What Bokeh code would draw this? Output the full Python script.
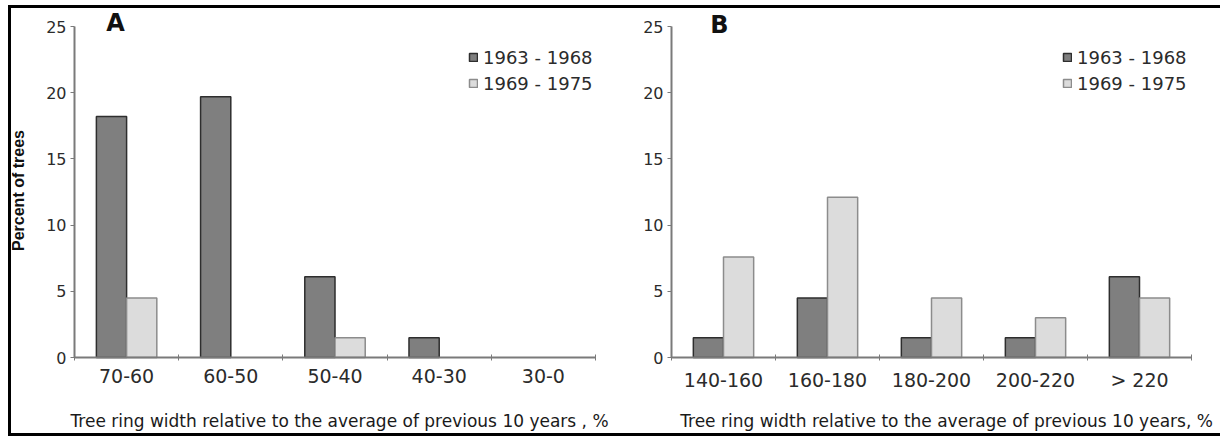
import numpy as np
from bokeh.plotting import figure
from bokeh.layouts import row
from bokeh.models import Range1d, FixedTicker, Legend, LegendItem, Label, ColumnDataSource
from bokeh.embed import file_html
from bokeh.resources import INLINE

# ---- data ----
cats_a = ["70-60", "60-50", "50-40", "40-30", "30-0"]
a_1963_1968 = [18.2, 19.7, 6.1, 1.5, 0.0]
a_1969_1975 = [4.5, 0.0, 1.5, 0.0, 0.0]

cats_b = ["140-160", "160-180", "180-200", "200-220", "> 220"]
b_1963_1968 = [1.5, 4.5, 1.5, 1.5, 6.1]
b_1969_1975 = [7.6, 12.1, 4.5, 3.0, 4.5]

series_names = ["1963 - 1968", "1969 - 1975"]
y_ticks = [0, 5, 10, 15, 20, 25]
y_max = 25
x_title_a = "Tree ring width relative to the average of previous 10 years , %"
x_title_b = "Tree ring width relative to the average of previous 10 years, %"
y_title = "Percent of trees"

# ---- styles ----
DARK, DARK_EDGE = "#7f7f7f", "#2e2e2e"
LIGHT, LIGHT_EDGE = "#dcdcdc", "#8c8c8c"
AXIS = "#7a7a7a"
TXT = "#2b2b2b"
FONT = "DejaVu Sans"
BW = 0.29

# ---- page layout in pixels ----
CANVAS_TOP, CANVAS_BOTTOM = 8, 433
H = CANVAS_BOTTOM - CANVAS_TOP
Y0_PX, YMAX_PX = 357, 26          # screen rows of value 0 and value 25


def panel(cats, v1, v2, letter, xtitle, left, right, ax0, ax1,
          letter_xy, title_xy, leg_xy, ylabel_xy=None):
    n = len(cats)
    width = right - left
    ppx = (ax1 - ax0) / n
    ppy = (Y0_PX - YMAX_PX) / y_max
    x_range = Range1d(-(ax0 - left) / ppx, (right - ax0) / ppx)
    y_range = Range1d(-(CANVAS_BOTTOM - Y0_PX) / ppy, (Y0_PX - CANVAS_TOP) / ppy)
    p = figure(width=width, height=H, x_range=x_range, y_range=y_range,
               output_backend="svg", toolbar_location=None,
               min_border=0, min_border_left=0, min_border_right=0,
               min_border_top=0, min_border_bottom=0)
    p.xgrid.visible = False
    p.ygrid.visible = False
    p.outline_line_color = None

    centers = np.arange(n) + 0.5
    v1 = np.asarray(v1, dtype=float)
    v2 = np.asarray(v2, dtype=float)
    src = ColumnDataSource(dict(c1=centers - BW / 2, c2=centers + BW / 2, v1=v1, v2=v2,
                                a1=(v1 > 0).astype(float), a2=(v2 > 0).astype(float)))
    r1 = p.vbar(x="c1", top="v1", bottom=0, width=BW, source=src,
                fill_color=DARK, line_color=DARK_EDGE, line_width=1.5, line_alpha="a1")
    r2 = p.vbar(x="c2", top="v2", bottom=0, width=BW, source=src,
                fill_color=LIGHT, line_color=LIGHT_EDGE, line_width=1.5, line_alpha="a2")

    xa = p.xaxis[0]
    xa.fixed_location = 0
    xa.bounds = (0, n)
    xa.ticker = FixedTicker(ticks=list(centers), minor_ticks=list(range(n + 1)))
    xa.major_label_overrides = {float(c): lab for c, lab in zip(centers, cats)}
    xa.major_tick_line_color = None
    xa.major_tick_out = 0
    xa.major_tick_in = 0
    xa.minor_tick_in = 3
    xa.minor_tick_out = 3
    xa.minor_tick_line_color = AXIS
    xa.axis_line_color = AXIS
    xa.axis_line_width = 2
    xa.major_label_text_font = FONT
    xa.major_label_text_font_size = "19px"
    xa.major_label_text_color = TXT
    xa.major_label_standoff = 8

    ya = p.yaxis[0]
    ya.fixed_location = 0
    ya.bounds = (0, y_max)
    ya.ticker = FixedTicker(ticks=y_ticks)
    ya.major_tick_out = 4
    ya.major_tick_in = 0
    ya.minor_tick_line_color = None
    ya.major_tick_line_color = AXIS
    ya.axis_line_color = AXIS
    ya.axis_line_width = 2
    ya.major_label_text_font = FONT
    ya.major_label_text_font_size = "16px"
    ya.major_label_text_color = TXT
    ya.major_label_standoff = 4

    legend = Legend(items=[LegendItem(label=series_names[0], renderers=[r1]),
                           LegendItem(label=series_names[1], renderers=[r2])],
                    location=(leg_xy[0] - left, CANVAS_BOTTOM - leg_xy[1] - 48),
                    glyph_width=10, glyph_height=10,
                    label_standoff=5, label_height=22, spacing=4, padding=0, margin=0,
                    border_line_color=None, background_fill_alpha=0,
                    label_text_font=FONT, label_text_font_size="18px",
                    label_text_color=TXT)
    p.add_layout(legend)

    def scr(xy):
        return xy[0] - left, CANVAS_BOTTOM - xy[1]

    lx, ly = scr(letter_xy)
    p.add_layout(Label(x=lx, y=ly, x_units="screen", y_units="screen", text=letter,
                       text_font=FONT, text_font_size="24px", text_font_style="bold",
                       text_align="center", text_baseline="middle", text_color="#111111"))
    tx, ty = scr(title_xy)
    p.add_layout(Label(x=tx, y=ty, x_units="screen", y_units="screen", text=xtitle,
                       text_font=FONT, text_font_size="17px", text_align="center",
                       text_baseline="middle", text_color="#1a1a1a"))
    if ylabel_xy is not None:
        yx, yy = scr(ylabel_xy)
        p.add_layout(Label(x=yx, y=yy, x_units="screen", y_units="screen", text=y_title,
                           angle=np.pi / 2, text_font="Liberation Sans", text_font_size="16px",
                           text_font_style="bold", text_align="center",
                           text_baseline="middle", text_color="#111111"))
    return p


pA = panel(cats_a, a_1963_1968, a_1969_1975, "A", x_title_a, 11, 630, 74, 595,
           letter_xy=(115, 22), title_xy=(339, 420), leg_xy=(468, 46), ylabel_xy=(18, 190))
pB = panel(cats_b, b_1963_1968, b_1969_1975, "B", x_title_b, 630, 1220, 671, 1191,
           letter_xy=(719, 24), title_xy=(946, 420), leg_xy=(1062, 46))

layout = row(pA, pB, margin=(5, 0, 0, 8),
             styles={"border-top": "3px solid black", "border-left": "3px solid black",
                     "border-bottom": "3px solid black"})

open("out.html", "w").write(file_html(layout, INLINE))
